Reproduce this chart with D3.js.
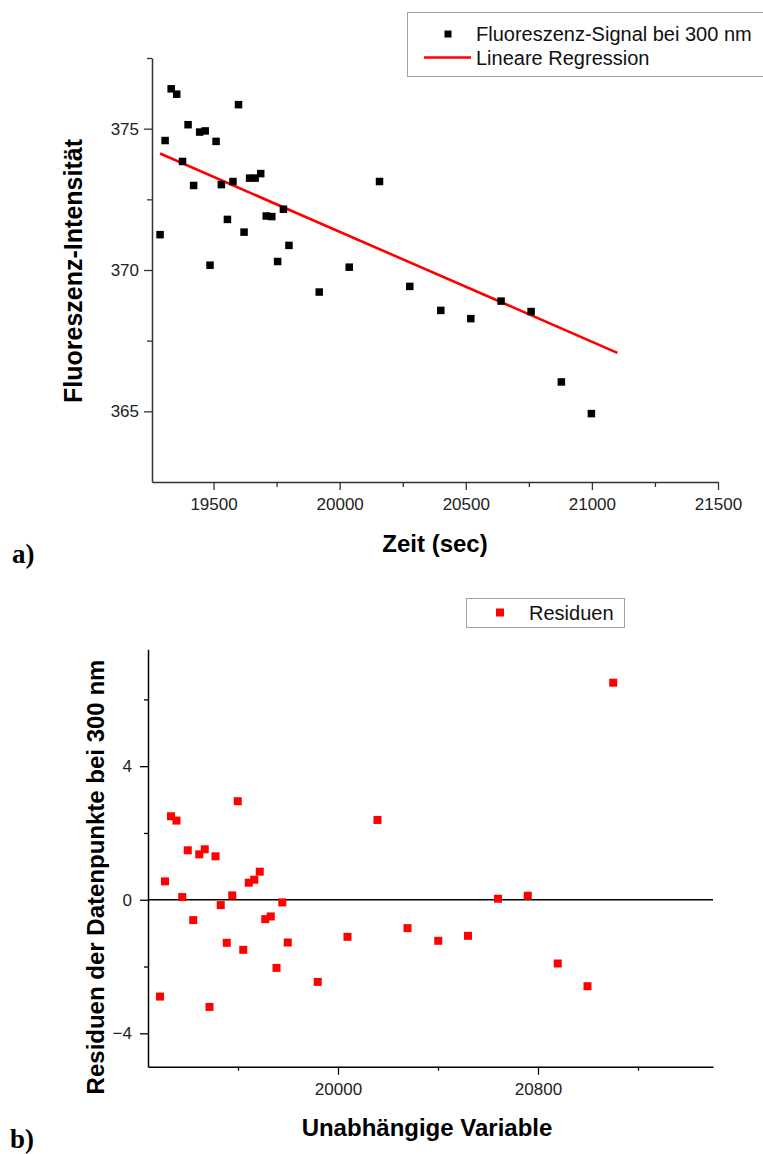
<!DOCTYPE html>
<html><head><meta charset="utf-8">
<script src="https://cdn.jsdelivr.net/npm/d3@7"></script>
<style>
body{margin:0;background:#fff}
svg{display:block}
text{font-family:"Liberation Sans",Arial,sans-serif}
</style>
</head><body>
<svg id="c" width="763" height="1154"></svg>
<script>
// ---- data ----
const zeit = [19288,19308,19332,19354,19377,19399,19421,19445,19467,19486,19510,19531,19555,19577,19599,19621,19643,19665,19687,19709,19731,19754,19777,19799,19919,20038,20158,20278,20401,20520,20640,20759,20879,20998,21101];
const intensitaet = [371.25,374.58,376.41,376.22,373.84,375.14,372.99,374.88,374.92,370.17,374.55,373.02,371.79,373.13,375.85,371.34,373.25,373.25,373.41,371.91,371.89,370.30,372.15,370.87,369.22,370.10,373.13,369.42,368.57,368.28,368.90,368.53,366.04,364.92];
const residuen = [-2.90,0.55,2.50,2.37,0.08,1.48,-0.61,1.36,1.51,-3.21,1.30,-0.16,-1.29,0.13,2.95,-1.50,0.51,0.60,0.84,-0.58,-0.50,-2.04,-0.08,-1.28,-2.46,-1.11,2.39,-0.85,-1.23,-1.08,0.03,0.12,-1.91,-2.59,6.50];
const regressionZeit = [19288, 21101];
const regressionWert = [374.12, 367.07];

const topXTicks = [19500,20000,20500,21000,21500];
const topXMinor = [19750,20250,20750,21250];
const topYTicks = [365,370,375];
const topYMinor = [367.5,372.5,377.5];
const botXTicks = [20000,20800];
const botXMinor = [19600,20400,21200];
const botYTicks = [-4,0,4];
const botYMinor = [-2,2,6];

const legendTop = ["Fluoreszenz-Signal bei 300 nm","Lineare Regression"];
const legendBot = ["Residuen"];

const svg = d3.select("#c");

function styleAxis(g, color){
  g.selectAll(".domain").attr("stroke", color).attr("stroke-width",1.5);
  g.selectAll(".tick line").attr("stroke", color).attr("stroke-width",1.3);
  g.selectAll(".tick text").attr("fill","#222").style("font-size","17px")
   .style("font-family",'"Liberation Sans",Arial,sans-serif');
}

// ================= Chart a =================
const xA = d3.scaleLinear().domain([19256,21500]).range([152,718]);
const yA = d3.scaleLinear().domain([362.5,377.5]).range([482,58]);

const gA = svg.append("g");
// minor ticks
gA.append("g").attr("transform","translate(0,482)")
  .call(d3.axisBottom(xA).tickValues(topXMinor).tickSize(5).tickFormat("").tickSizeOuter(0))
  .call(g=>{g.select(".domain").remove(); styleAxis(g,"#333");});
gA.append("g").attr("transform","translate(152,0)")
  .call(d3.axisLeft(yA).tickValues(topYMinor).tickSize(5).tickFormat("").tickSizeOuter(0))
  .call(g=>{g.select(".domain").remove(); styleAxis(g,"#333");});
// major
gA.append("g").attr("transform","translate(0,482)")
  .call(d3.axisBottom(xA).tickValues(topXTicks).tickSize(8).tickPadding(8).tickSizeOuter(0).tickFormat(d3.format("d")))
  .call(g=>styleAxis(g,"#333"));
gA.append("g").attr("transform","translate(152,0)")
  .call(d3.axisLeft(yA).tickValues(topYTicks).tickSize(8).tickPadding(5).tickSizeOuter(0).tickFormat(d3.format("d")))
  .call(g=>styleAxis(g,"#333"));

// regression line
gA.append("path")
  .datum(regressionZeit.map((t,i)=>[t, regressionWert[i]]))
  .attr("fill","none").attr("stroke","#ff0000").attr("stroke-width",2.6)
  .attr("d", d3.line().x(d=>xA(d[0])).y(d=>yA(d[1])));

// points
const sq = 7.5;
gA.selectAll("rect.pt").data(intensitaet).join("rect").attr("class","pt")
  .attr("x",(d,i)=>xA(zeit[i])-sq/2).attr("y",d=>yA(d)-sq/2)
  .attr("width",sq).attr("height",sq).attr("fill","#000");

// titles
gA.append("text").attr("transform","translate(73,271) rotate(-90)")
  .attr("text-anchor","middle").attr("dy","0.36em")
  .style("font-size","25px").style("font-weight","bold").text("Fluoreszenz-Intensität");
gA.append("text").attr("x",435).attr("y",543).attr("dy","0.36em")
  .attr("text-anchor","middle").style("font-size","24px").style("font-weight","bold").text("Zeit (sec)");
gA.append("text").attr("x",12).attr("y",563)
  .style("font-family",'"Liberation Serif","Times New Roman",serif')
  .style("font-size","27px").style("font-weight","bold").text("a)");

// legend a
const lgA = gA.append("g");
lgA.append("rect").attr("x",407.5).attr("y",12.5).attr("width",400).attr("height",64)
  .attr("fill","#fff").attr("stroke","#a0a0a0").attr("stroke-width",1);
lgA.append("rect").attr("x",448-3.5).attr("y",34-3.5).attr("width",7).attr("height",7).attr("fill","#000");
lgA.append("line").attr("x1",424).attr("x2",471).attr("y1",57.5).attr("y2",57.5)
  .attr("stroke","#ff0000").attr("stroke-width",2.6);
lgA.selectAll("text.lg").data(legendTop).join("text").attr("class","lg")
  .attr("x",476).attr("y",(d,i)=>34+i*24).attr("dy","0.36em")
  .style("font-size","20px").attr("fill","#111").text(d=>d);

// ================= Chart b =================
const xB = d3.scaleLinear().domain([19240,21500]).range([148,713]);
const yB = d3.scaleLinear().domain([-5,7.5]).range([1066.7,649.3]);

const gB = svg.append("g");
gB.append("g").attr("transform","translate(0,1066.7)")
  .call(d3.axisBottom(xB).tickValues(botXMinor).tickSize(4).tickFormat("").tickSizeOuter(0))
  .call(g=>{g.select(".domain").remove(); styleAxis(g,"#000");});
gB.append("g").attr("transform","translate(148,0)")
  .call(d3.axisLeft(yB).tickValues(botYMinor).tickSize(4).tickFormat("").tickSizeOuter(0))
  .call(g=>{g.select(".domain").remove(); styleAxis(g,"#000");});
gB.append("g").attr("transform","translate(0,1066.7)")
  .call(d3.axisBottom(xB).tickValues(botXTicks).tickSize(8).tickPadding(8).tickSizeOuter(0).tickFormat(d3.format("d")))
  .call(g=>styleAxis(g,"#000"));
gB.append("g").attr("transform","translate(148,0)")
  .call(d3.axisLeft(yB).tickValues(botYTicks).tickSize(8).tickPadding(8).tickSizeOuter(0).tickFormat(d3.format("d")))
  .call(g=>styleAxis(g,"#000"));

// zero line
gB.append("line").attr("x1",xB.range()[0]).attr("x2",xB.range()[1])
  .attr("y1",yB(0)).attr("y2",yB(0)).attr("stroke","#000").attr("stroke-width",1.5);

const sqB = 8;
gB.selectAll("rect.res").data(residuen).join("rect").attr("class","res")
  .attr("x",(d,i)=>xB(zeit[i])-sqB/2).attr("y",d=>yB(d)-sqB/2)
  .attr("width",sqB).attr("height",sqB).attr("fill","#ff0000");

gB.append("text").attr("transform","translate(95,877) rotate(-90)")
  .attr("text-anchor","middle").attr("dy","0.36em")
  .style("font-size","24px").style("font-weight","bold").text("Residuen der Datenpunkte bei 300 nm");
gB.append("text").attr("x",427).attr("y",1127).attr("dy","0.36em")
  .attr("text-anchor","middle").style("font-size","24px").style("font-weight","bold").text("Unabhängige Variable");
gB.append("text").attr("x",10).attr("y",1148)
  .style("font-family",'"Liberation Serif","Times New Roman",serif')
  .style("font-size","27px").style("font-weight","bold").text("b)");

// legend b
const lgB = gB.append("g");
lgB.append("rect").attr("x",466.5).attr("y",598.5).attr("width",158).attr("height",29)
  .attr("fill","#fff").attr("stroke","#a0a0a0").attr("stroke-width",1);
lgB.append("rect").attr("x",500-4).attr("y",612.5-4).attr("width",8).attr("height",8).attr("fill","#ff0000");
lgB.selectAll("text.lg").data(legendBot).join("text").attr("class","lg")
  .attr("x",529).attr("y",612.5).attr("dy","0.36em")
  .style("font-size","20px").attr("fill","#111").text(d=>d);
</script>
</body></html>
